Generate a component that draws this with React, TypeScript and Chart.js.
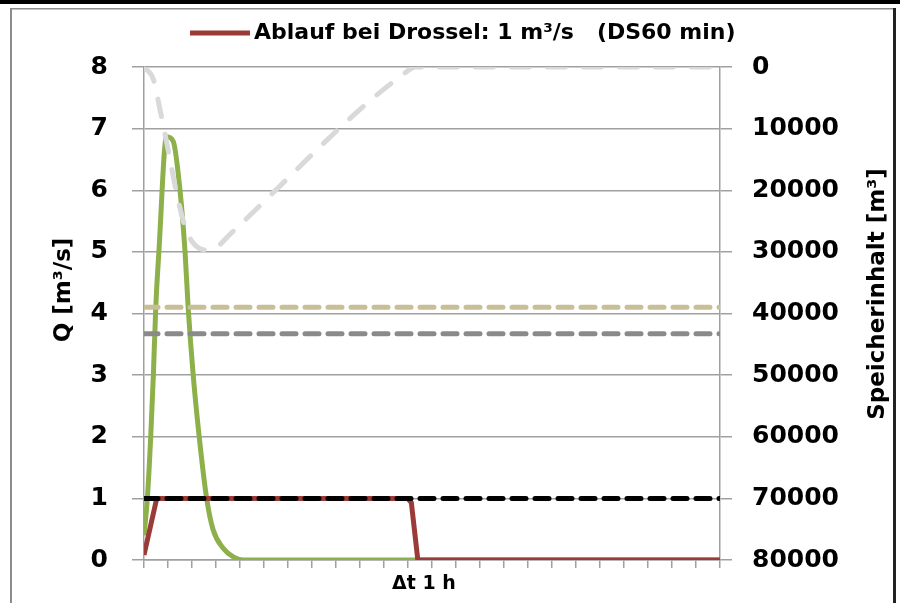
import React, { useEffect, useRef } from "react";
import { Chart, registerables } from "chart.js";

Chart.register(...registerables);

// ---- data (x in hours, tick spacing Δt = 1 h) ----
const greenHours = [0, 0.14, 0.28, 0.39, 0.49, 0.62, 0.94, 1.22, 1.5, 1.71, 1.84, 2.05, 2.3, 2.61, 2.88, 3.3, 3.72, 4.13, 24];
const greenFlow = [0.4, 1.0, 2.0, 3.0, 4.1, 5.0, 6.87, 6.79, 6.0, 5.0, 4.1, 3.0, 2.0, 1.0, 0.49, 0.19, 0.05, 0, 0];

const redHours = [0, 0.53, 10.99, 11.14, 11.41, 24];
const redFlow = [0.08, 1.0, 1.0, 0.93, 0, 0];

const storageHours = [0, 0.4, 0.67, 1.01, 1.36, 1.71, 2.0, 2.6, 3.0, 3.65, 11.0, 11.3, 24];
const storageVolume = [0, 2100, 7000, 13500, 20500, 25900, 28300, 29700, 29300, 26900, 600, 0, 0];

const levelHours = [0, 24];
const tanLevel = [4.1, 4.1];
const grayLevel = [3.67, 3.67];
const throttleLevel = [1.0, 1.0];

const legendLabel = "Ablauf bei Drossel: 1 m³/s   (DS60 min)";
const leftTitle = "Q [m³/s]";
const rightTitle = "Speicherinhalt [m³]";
const xLabel = "Δt 1 h";

const FONT = "'DejaVu Sans', sans-serif";

const pts = (xs: number[], ys: number[]) => xs.map((x, i) => ({ x, y: ys[i] }));

const decorPlugin = {
  id: "decor",
  beforeDraw(chart: any) {
    const { ctx, width, height } = chart;
    ctx.save();
    ctx.fillStyle = "#ffffff";
    ctx.fillRect(0, 0, width, height);
    // outer frame
    ctx.fillStyle = "#000000";
    ctx.fillRect(0, 0, width, 4);
    ctx.fillStyle = "#8c8c8c";
    ctx.fillRect(10, 8, 2, height - 8);
    ctx.fillRect(10, 8, 884, 1.5);
    ctx.fillStyle = "#222222";
    ctx.fillRect(893, 8, 3, height - 8);
    ctx.restore();
  },
  afterDraw(chart: any) {
    const { ctx } = chart;
    ctx.save();
    ctx.fillStyle = "#000";
    // legend
    const red = chart.data.datasets[1];
    ctx.fillStyle = red.borderColor;
    ctx.fillRect(190, 30.5, 60, 5);
    ctx.fillStyle = "#000";
    ctx.font = `bold 22px ${FONT}`;
    ctx.textBaseline = "middle";
    ctx.textAlign = "left";
    ctx.fillText(red.label, 254, 33);
    // left title
    ctx.font = `bold 23px ${FONT}`;
    ctx.textAlign = "center";
    ctx.save();
    ctx.translate(64, 290);
    ctx.rotate(-Math.PI / 2);
    ctx.fillText(leftTitle, 0, 0);
    ctx.restore();
    // right title
    ctx.save();
    ctx.translate(878, 294);
    ctx.rotate(-Math.PI / 2);
    ctx.fillText(rightTitle, 0, 0);
    ctx.restore();
    // x label
    ctx.font = `bold 19px ${FONT}`;
    ctx.fillText(xLabel, 424, 584);
    ctx.restore();
  },
};

export default function App() {
  const ref = useRef<HTMLCanvasElement | null>(null);
  useEffect(() => {
    if (!ref.current) return;
    const chart = new Chart(ref.current, {
      type: "line",
      data: {
        datasets: [
          {
            label: "Zufluss",
            data: pts(greenHours, greenFlow),
            borderColor: "#8db04a",
            backgroundColor: "#8db04a",
            borderWidth: 5,
            pointRadius: 0,
            cubicInterpolationMode: "monotone",
            yAxisID: "y",
            order: 6,
          },
          {
            label: legendLabel,
            data: pts(redHours, redFlow),
            borderColor: "#9a3b38",
            backgroundColor: "#9a3b38",
            borderWidth: 5,
            pointRadius: 0,
            tension: 0,
            yAxisID: "y",
            order: 5,
          },
          {
            label: "Speicherinhalt",
            data: pts(storageHours, storageVolume),
            borderColor: "#d9d9d9",
            borderWidth: 5,
            borderDash: [18, 18],
            borderCapStyle: "round",
            pointRadius: 0,
            cubicInterpolationMode: "monotone",
            yAxisID: "y2",
            order: 4,
          },
          {
            label: "Niveau 1",
            data: pts(levelHours, tanLevel),
            borderColor: "#c8bf96",
            borderWidth: 5,
            borderDash: [14, 9],
            borderCapStyle: "round",
            pointRadius: 0,
            yAxisID: "y",
            order: 3,
          },
          {
            label: "Niveau 2",
            data: pts(levelHours, grayLevel),
            borderColor: "#8a8a8a",
            borderWidth: 5,
            borderDash: [14, 9],
            borderCapStyle: "round",
            pointRadius: 0,
            yAxisID: "y",
            order: 2,
          },
          {
            label: "Drossel",
            data: pts(levelHours, throttleLevel),
            borderColor: "#000000",
            borderWidth: 5,
            borderDash: [14, 9],
            borderCapStyle: "round",
            pointRadius: 0,
            yAxisID: "y",
            order: 1,
          },
        ],
      },
      options: {
        responsive: false,
        animation: false,
        layout: { padding: { top: 67, left: 0, right: 0, bottom: 0 } },
        plugins: { legend: { display: false }, tooltip: { enabled: false } },
        scales: {
          x: {
            type: "linear",
            min: 0,
            max: 24,
            ticks: { stepSize: 1, display: false },
            grid: { drawOnChartArea: false, drawTicks: true, tickLength: 8, color: "#a0a0a0", lineWidth: 1.5 },
            border: { display: true, color: "#a0a0a0", width: 1.5 },
            afterFit: (s: any) => { s.height = 43; },
          },
          y: {
            position: "left",
            min: 0,
            max: 8,
            ticks: { stepSize: 1, color: "#000", padding: 24, font: { family: FONT, size: 25, weight: "bold" } },
            grid: { color: "#a0a0a0", lineWidth: 1.5, tickLength: 12 },
            border: { display: true, color: "#a0a0a0", width: 1.5 },
            afterFit: (s: any) => { s.width = 144; },
          },
          y2: {
            position: "right",
            reverse: true,
            min: 0,
            max: 80000,
            ticks: {
              stepSize: 10000,
              color: "#000",
              padding: 20,
              font: { family: FONT, size: 25, weight: "bold" },
              callback: (v: any) => String(v),
            },
            grid: { drawOnChartArea: false, color: "#a0a0a0", lineWidth: 1.5, tickLength: 12 },
            border: { display: true, color: "#a0a0a0", width: 1.5 },
            afterFit: (s: any) => { s.width = 180; },
          },
        },
      },
      plugins: [decorPlugin],
    } as any);
    return () => chart.destroy();
  }, []);
  return (
    <div style={{ position: "absolute", left: 0, top: 0, width: 900, height: 603 }}>
      <canvas ref={ref} width={900} height={603} style={{ display: "block" }} />
    </div>
  );
}
